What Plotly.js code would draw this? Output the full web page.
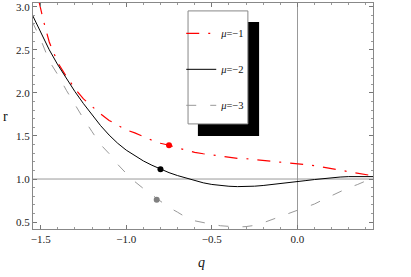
<!DOCTYPE html>
<html>
<head>
<meta charset="utf-8">
<script src="https://cdn.plot.ly/plotly-3.0.1.min.js"></script>
<style>html,body{margin:0;padding:0;background:#fff;}#chart{width:411px;height:277px;}</style>
</head>
<body>
<div id="chart"></div>
<script>
// q grid (x values)
const qValues = [-1.55,-1.5,-1.45,-1.4,-1.35,-1.3,-1.25,-1.2,-1.15,-1.1,-1.05,-1.0,-0.95,-0.9,-0.85,-0.8,-0.75,-0.7,-0.65,-0.6,-0.55,-0.5,-0.45,-0.4,-0.35,-0.3,-0.25,-0.2,-0.15,-0.1,-0.05,0,0.05,0.1,0.15,0.2,0.25,0.3,0.35,0.4,0.45];

// mu = -1 (red, dash-dot)
const qMu1 = [-1.51,-1.5,-1.485,-1.45,-1.4,-1.35,-1.3,-1.25,-1.2,-1.15,-1.1,-1.05,-1.0,-0.95,-0.9,-0.85,-0.8,-0.75,-0.7,-0.65,-0.6,-0.55,-0.5,-0.45,-0.4,-0.35,-0.3,-0.25,-0.2,-0.15,-0.1,-0.05,0,0.05,0.1,0.15,0.2,0.25,0.3,0.35,0.4,0.45];
const rMu1 = [3.06,2.96,2.845,2.59,2.35,2.19,2.05,1.93,1.84,1.755,1.68,1.62,1.57,1.535,1.49,1.45,1.415,1.392,1.36,1.333,1.31,1.293,1.28,1.265,1.25,1.24,1.236,1.228,1.218,1.207,1.196,1.187,1.18,1.168,1.155,1.14,1.122,1.103,1.085,1.068,1.052,1.035];

// mu = -2 (black, solid)
const rMu2 = [2.91,2.695,2.50,2.325,2.165,2.015,1.875,1.745,1.62,1.51,1.415,1.335,1.268,1.21,1.16,1.113,1.074,1.04,1.01,0.982,0.956,0.937,0.924,0.916,0.912,0.912,0.917,0.925,0.935,0.946,0.958,0.97,0.982,0.994,1.005,1.015,1.023,1.028,1.03,1.03,1.028];

// mu = -3 (gray, dashed)
const rMu3 = [2.83,2.62,2.37,2.21,2.03,1.86,1.70,1.55,1.40,1.295,1.17,1.065,0.97,0.89,0.815,0.74,0.67,0.615,0.555,0.515,0.492,0.475,0.458,0.447,0.443,0.448,0.462,0.492,0.528,0.56,0.595,0.632,0.668,0.71,0.76,0.808,0.857,0.9,0.935,0.975,1.02];

// highlighted points
const markQ = [-0.75, -0.80, -0.822];
const markR = [1.392, 1.113, 0.76];

const seriesNames = ['<i>μ</i>=−1', '<i>μ</i>=−2', '<i>μ</i>=−3'];
const axisOriginR = 1.0;

const serif = "'Liberation Serif', 'Times New Roman', Times, serif";

const traces = [
  {x: qMu1, y: rMu1, mode: 'lines', name: seriesNames[0], legendgroup: 'a',
   line: {color: 'rgb(255,0,0)', width: 1.2, dash: '13px,9px,2px,9px'}},
  {x: qValues, y: rMu2, mode: 'lines', name: seriesNames[1], legendgroup: 'b',
   line: {color: '#000', width: 1}},
  {x: qValues, y: rMu3, mode: 'lines', name: seriesNames[2], legendgroup: 'c',
   line: {color: '#999', width: 1, dash: '10px,14px'}},
  {x: [markQ[0]], y: [markR[0]], mode: 'markers', showlegend: false,
   marker: {color: 'rgb(255,0,0)', size: 6}},
  {x: [markQ[1]], y: [markR[1]], mode: 'markers', showlegend: false,
   marker: {color: '#000', size: 6}},
  {x: [markQ[2]], y: [markR[2]], mode: 'markers', showlegend: false,
   marker: {color: '#808080', size: 6}}
];

const axisCommon = {
  ticks: 'inside', ticklen: 4, tickcolor: '#777', tickwidth: 1,
  mirror: 'allticks', showline: true, linecolor: '#888', linewidth: 1,
  showgrid: false, tickformat: '.1f',
  tickfont: {family: serif, size: 11, color: '#222'},
  minor: {dtick: 0.1, ticks: 'inside', ticklen: 2, tickcolor: '#999', showgrid: false}
};

const layout = {
  width: 411, height: 277,
  margin: {l: 33, r: 38, t: 3, b: 48},
  paper_bgcolor: '#fff', plot_bgcolor: '#fff',
  font: {family: serif},
  showlegend: true,
  xaxis: Object.assign({}, axisCommon, {
    range: [-1.545, 0.442], dtick: 0.5, tick0: 0,
    zeroline: true, zerolinecolor: '#999', zerolinewidth: 1
  }),
  yaxis: Object.assign({}, axisCommon, {
    range: [0.42, 3.043], dtick: 0.5, tick0: 0, zeroline: false
  }),
  legend: {
    x: 0.436, y: 0.93, xanchor: 'left', yanchor: 'top',
    bgcolor: 'rgba(0,0,0,0)', borderwidth: 0,
    traceorder: 'grouped', tracegroupgap: 17,
    font: {family: serif, size: 10.5, color: '#111'}
  },
  shapes: [
    {type: 'line', xref: 'paper', yref: 'y', x0: 0, x1: 1, y0: axisOriginR, y1: axisOriginR,
     line: {color: '#999', width: 1}, layer: 'below'},
    {type: 'rect', xref: 'paper', yref: 'paper', x0: 0.485, x1: 0.665, y0: 0.412, y1: 0.916,
     fillcolor: '#000', line: {width: 0}, layer: 'above'},
    {type: 'rect', xref: 'paper', yref: 'paper', x0: 0.456, x1: 0.632, y0: 0.465, y1: 0.965,
     fillcolor: '#fff', line: {color: '#888', width: 1}, layer: 'above'}
  ],
  annotations: [
    {text: '<i>q</i>', xref: 'paper', yref: 'paper', x: 0.497, y: -0.15,
     xanchor: 'center', yanchor: 'middle', showarrow: false,
     font: {family: serif, size: 14, color: '#111'}},
    {text: 'r', xref: 'paper', yref: 'paper', x: -0.082, y: 0.496,
     xanchor: 'center', yanchor: 'middle', showarrow: false,
     font: {family: serif, size: 14, color: '#111'}}
  ]
};

Plotly.newPlot('chart', traces, layout, {displayModeBar: false, staticPlot: true});
</script>
</body>
</html>
